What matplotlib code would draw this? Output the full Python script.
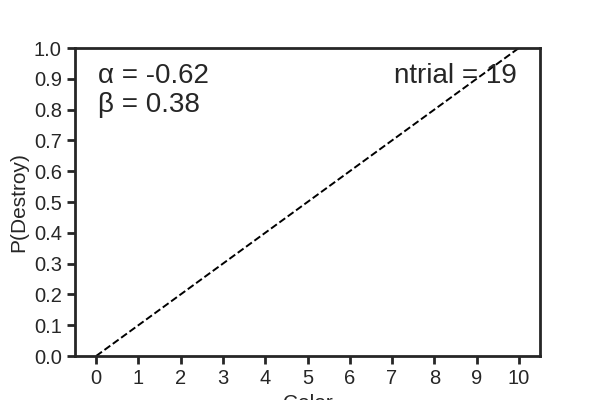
import numpy as np
import matplotlib
matplotlib.use('Agg')
import matplotlib.pyplot as plt
import seaborn as sns

sns.set_style('ticks')
plt.rcParams['font.family'] = ['Liberation Sans', 'DejaVu Sans']

color_x = [0, 10]
p_destroy = [0.0, 1.0]
alpha = -0.62
beta = 0.38
ntrial = 19

fig, ax = plt.subplots(figsize=(6, 4), dpi=100)
ax.plot(color_x, p_destroy, '--', color='black', linewidth=1.4)
ax.set_xlim(-0.5, 10.5)
ax.set_ylim(0, 1)
ax.set_xticks(np.arange(0, 11))
ax.set_yticks(np.arange(0, 1.01, 0.1))
ax.set_xlabel('Color', fontsize=15)
ax.set_ylabel('P(Destroy)', fontsize=15)
ax.tick_params(labelsize=14.5, width=2, length=6, color='#262626')
for s in ax.spines.values():
    s.set_linewidth(2)
    s.set_color('#262626')
ax.text(0.05, 0.95, 'α = %.2f\nβ = %.2f' % (alpha, beta), transform=ax.transAxes,
        ha='left', va='top', fontsize=20, color='#262626', linespacing=1.15)
ax.text(0.95, 0.95, 'ntrial = %d' % ntrial, transform=ax.transAxes,
        ha='right', va='top', fontsize=20, color='#262626')
plt.savefig('out.png')
